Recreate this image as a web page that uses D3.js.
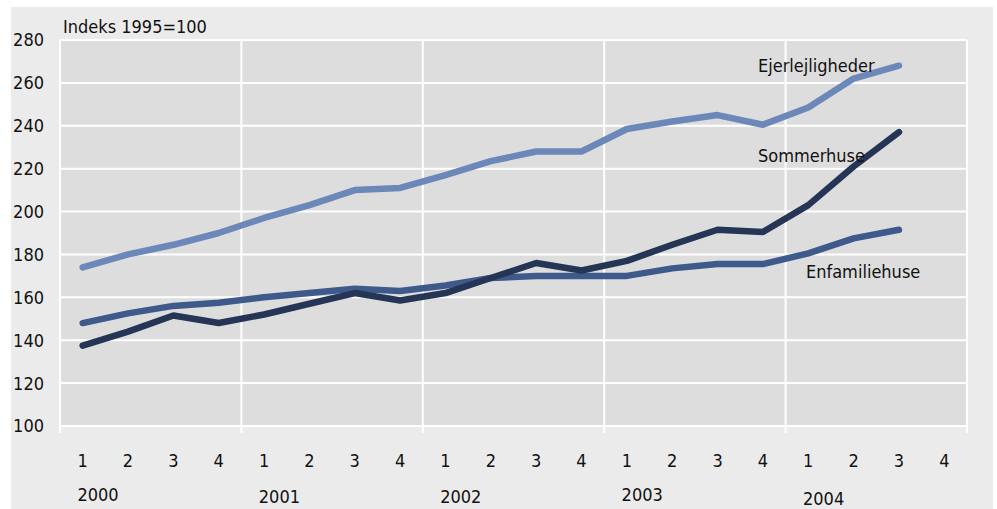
<!DOCTYPE html>
<html>
<head>
<meta charset="utf-8">
<script src="https://cdn.jsdelivr.net/npm/d3@7"></script>
<style>
  body { margin: 0; background: #fff; }
  svg text { font-family: "Liberation Sans Narrow", "DejaVu Sans Condensed", sans-serif; fill: #111; }
</style>
</head>
<body>
<svg id="chart" width="997" height="509"></svg>
<script>
var years = ["2000", "2001", "2002", "2003", "2004"];
var quarters = ["1", "2", "3", "4"];
var yTicks = [100, 120, 140, 160, 180, 200, 220, 240, 260, 280];

// index 1995=100, quarterly 2000Q1 - 2004Q3
var ejerlejligheder = [174, 180, 184.5, 190, 197, 203, 210, 211, 217, 223.5, 228, 228, 238.5, 242, 245, 240.5, 248.5, 262, 268];
var sommerhuse = [137.5, 144, 151.5, 148, 152, 157, 162, 158.5, 162, 169, 176, 172.5, 177, 184.5, 191.5, 190.5, 203, 221, 237];
var enfamiliehuse = [148, 152.5, 156, 157.5, 160, 162, 164, 163, 165.5, 169, 170, 170, 170, 173.5, 175.5, 175.5, 180.5, 187.5, 191.5];

var series = [
  { name: "Ejerlejligheder", values: ejerlejligheder, color: "#6b88b9", lx: 758, ly: 72 },
  { name: "Enfamiliehuse", values: enfamiliehuse, color: "#3e5a8b", lx: 806, ly: 278 },
  { name: "Sommerhuse", values: sommerhuse, color: "#243555", lx: 758, ly: 162 }
];

var svg = d3.select("#chart");

var m = { left: 60, right: 967, top: 40, bottom: 426 };

var x = d3.scaleLinear().domain([0, 20]).range([m.left, m.right]);
var y = d3.scaleLinear().domain([100, 280]).range([m.bottom, m.top]);

// outer panel
svg.append("rect")
  .attr("x", 11).attr("y", 7)
  .attr("width", 982).attr("height", 502)
  .attr("fill", "#ebebeb");

svg.append("rect")
  .attr("x", m.left).attr("y", m.top)
  .attr("width", m.right - m.left).attr("height", m.bottom - m.top)
  .attr("fill", "#dddddd");

// horizontal grid
svg.append("g").selectAll("line")
  .data(yTicks)
  .join("line")
    .attr("x1", m.left).attr("x2", m.right)
    .attr("y1", d => y(d)).attr("y2", d => y(d))
    .attr("stroke", "#fff")
    .attr("stroke-width", 2);

// vertical year separators
svg.append("g").selectAll("line")
  .data(d3.range(years.length + 1))
  .join("line")
    .attr("x1", d => x(d * 4)).attr("x2", d => x(d * 4))
    .attr("y1", m.top).attr("y2", m.bottom + 7)
    .attr("stroke", "#fff")
    .attr("stroke-width", 2);

// y tick labels
svg.append("g").selectAll("text")
  .data(yTicks)
  .join("text")
    .attr("x", 44)
    .attr("y", d => y(d))
    .attr("dy", "0.36em")
    .attr("text-anchor", "end")
    .attr("font-size", 18)
    .text(d => d);

svg.append("text")
  .attr("x", 63).attr("y", 33)
  .attr("font-size", 18)
  .text("Indeks 1995=100");

// quarter labels
var qLabels = [];
years.forEach(function(yr, yi) {
  quarters.forEach(function(q, qi) { qLabels.push({ q: q, i: yi * 4 + qi }); });
});
svg.append("g").selectAll("text")
  .data(qLabels)
  .join("text")
    .attr("x", d => x(d.i + 0.5))
    .attr("y", 467)
    .attr("text-anchor", "middle")
    .attr("font-size", 18)
    .text(d => d.q);

var yearBase = [501, 503, 503, 501, 505];
svg.append("g").selectAll("text")
  .data(years)
  .join("text")
    .attr("x", (d, i) => x(i * 4) + 38)
    .attr("y", (d, i) => yearBase[i])
    .attr("text-anchor", "middle")
    .attr("font-size", 18)
    .text(d => d);

var line = d3.line()
  .x((d, i) => x(i + 0.5))
  .y(d => y(d));

svg.append("g").selectAll("path")
  .data(series)
  .join("path")
    .attr("fill", "none")
    .attr("stroke", d => d.color)
    .attr("stroke-width", 6.5)
    .attr("stroke-linejoin", "round")
    .attr("stroke-linecap", "round")
    .attr("d", d => line(d.values));

svg.append("g").selectAll("text")
  .data(series)
  .join("text")
    .attr("x", d => d.lx)
    .attr("y", d => d.ly)
    .attr("font-size", 18)
    .text(d => d.name);
</script>
</body>
</html>
